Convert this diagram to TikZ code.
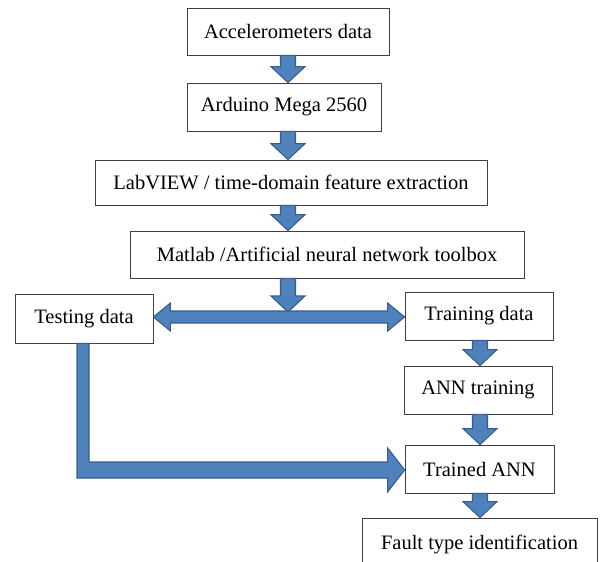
\documentclass[tikz,border=0pt]{standalone}
\usepackage{fontspec}
\setmainfont{Liberation Serif}
\usetikzlibrary{calc}
\definecolor{blkfill}{HTML}{4F81BD}
\definecolor{blkline}{HTML}{385D8A}
\definecolor{boxline}{HTML}{404040}
\tikzset{
  box/.style={draw=boxline, line width=0.8pt, fill=white, inner sep=0pt,
    font=\fontsize{20.5}{24}\selectfont},
  blk/.style={fill=blkfill, draw=blkline, line width=1.1pt, line join=miter}
}
\newcommand\vblk[2]{%
  \filldraw[blk] let \p1=(#1), \p2=(#2) in
    (\x1-7.5pt,\y1) -- (\x1+7.5pt,\y1) -- (\x1+7.5pt,\y2+16pt) -- (\x1+17pt,\y2+16pt)
    -- (\x1,\y2) -- (\x1-17pt,\y2+16pt) -- (\x1-7.5pt,\y2+16pt) -- cycle;}
\begin{document}
\begin{tikzpicture}[x=1pt,y=-1pt]
\useasboundingbox (0,0) rectangle (600,562);
\clip (0,0) rectangle (600,562);
\fill[white] (0,0) rectangle (600,562);
\coordinate (colx) at (288,0);
\coordinate (colr) at (480,0);
\coordinate (dy) at (0,317);
\coordinate (split) at (288,312);
\coordinate (lx) at (83,0);
\coordinate (ly) at (0,470);

\node[box, minimum width=202pt, minimum height=47pt] (acc) at (288,31.5) {Accelerometers data};
\node[box, minimum width=194pt, minimum height=48pt] (ard) at (284,107) {Arduino Mega 2560};
\node[box, minimum width=392pt, minimum height=45pt] (lab) at (291,182.5) {LabVIEW / time-domain feature extraction};
\node[box, minimum width=394pt, minimum height=47pt] (mat) at (327,254.5) {Matlab /Artificial neural network toolbox};
\node[box, minimum width=138pt, minimum height=49pt] (test) at (84,318.5) {Testing data};
\node[box, minimum width=148pt, minimum height=48pt] (train) at (479,316) {Training data};
\node[box, minimum width=148pt, minimum height=48pt] (anntr) at (478,390) {ANN training};
\node[box, minimum width=149pt, minimum height=48pt] (trained) at (479.5,469) {Trained ANN};
\node[box, minimum width=235pt, minimum height=52pt] (fault) at (479.5,544) {Fault type identification};

\vblk{acc.south -| colx}{ard.north -| colx}
\vblk{ard.south -| colx}{lab.north -| colx}
\vblk{lab.south -| colx}{mat.north -| colx}
\vblk{mat.south -| colx}{split}
\vblk{train.south -| colr}{anntr.north -| colr}
\vblk{anntr.south -| colr}{trained.north -| colr}
\vblk{trained.south -| colr}{fault.north -| colr}

% double arrow Testing <-> Training
\filldraw[blk] let \p1=(test.east |- dy), \p2=(train.west |- dy) in
  (\x1,\y1) -- (\x1+17pt,\y1+14pt) -- (\x1+17pt,\y1+6pt) -- (\x2-17pt,\y1+6pt)
  -- (\x2-17pt,\y1+14pt) -- (\x2,\y1) -- (\x2-17pt,\y1-14pt) -- (\x2-17pt,\y1-6pt)
  -- (\x1+17pt,\y1-6pt) -- (\x1+17pt,\y1-14pt) -- cycle;

% L-shaped arrow Testing -> Trained ANN
\filldraw[blk] let \p1=(test.south -| lx), \p2=(trained.west |- ly) in
  (\x1-6pt,\y1) -- (\x1+6pt,\y1) -- (\x1+6pt,\y2+8pt) -- (\x2-17pt,\y2+8pt)
  -- (\x2-17pt,\y2+22pt) -- (\x2,\y2) -- (\x2-17pt,\y2-22pt) -- (\x2-17pt,\y2-8pt)
  -- (\x1-6pt,\y2-8pt) -- cycle;
\end{tikzpicture}
\end{document}
